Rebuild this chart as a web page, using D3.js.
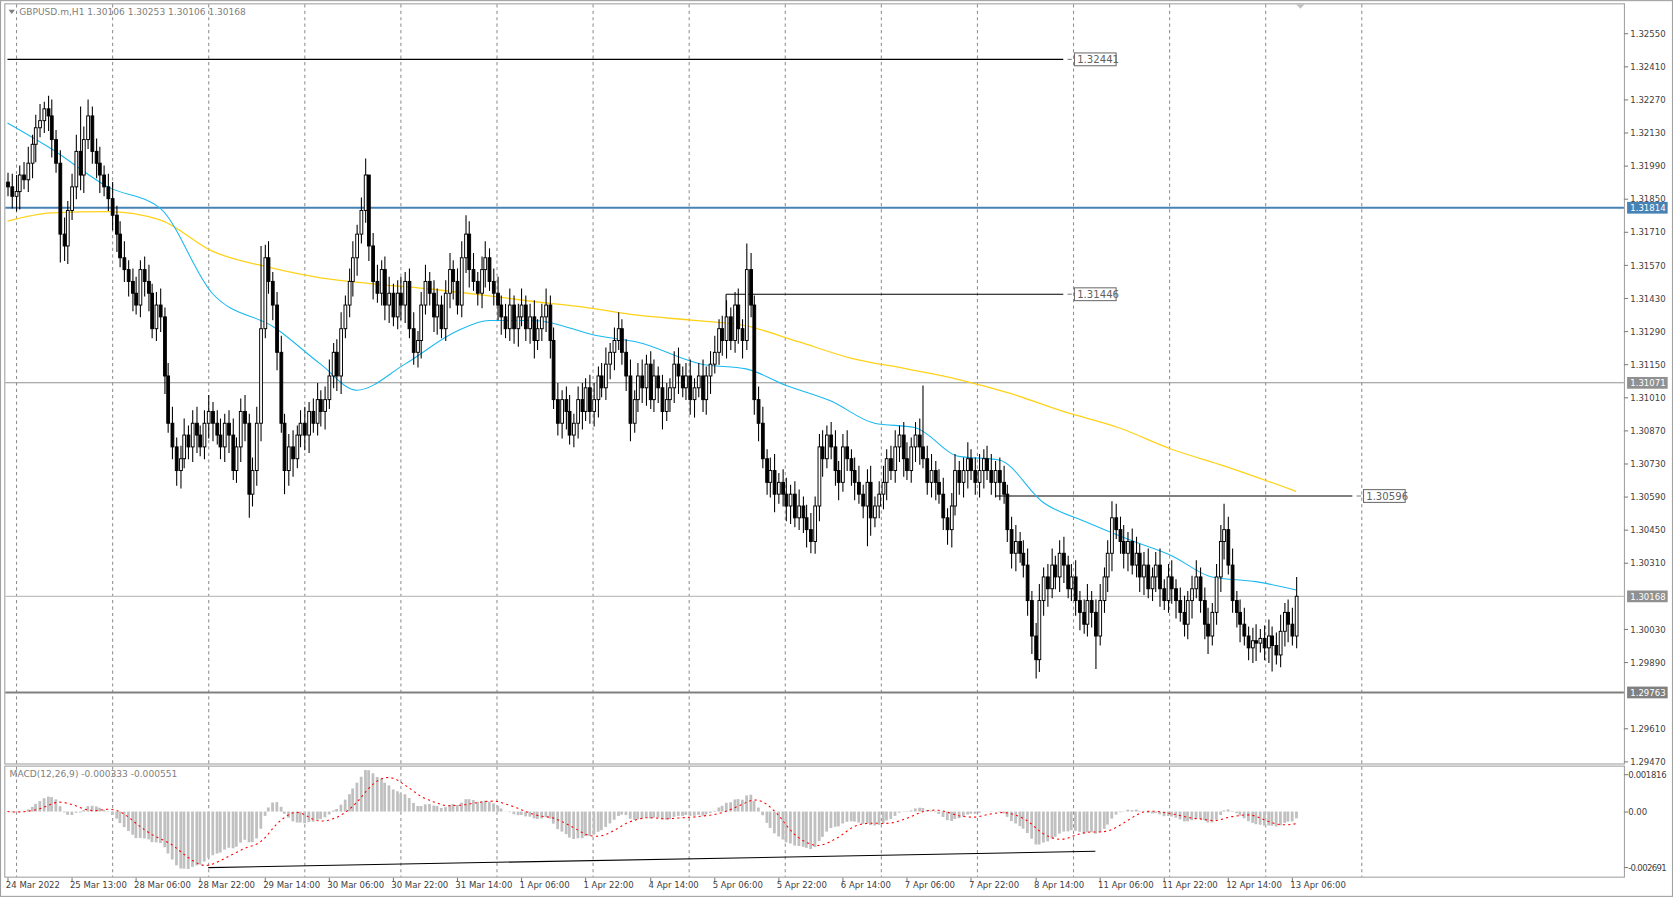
<!DOCTYPE html>
<html><head><meta charset="utf-8">
<script src="https://cdn.jsdelivr.net/npm/d3@7"></script>
<style>body{margin:0;background:#fff}svg{display:block}</style>
</head><body>
<svg id="c" width="1673" height="897" viewBox="0 0 1567 840"></svg>
<script>
// closes in 1e-5 above 1.29000, one per H1 bar
var closes = [2900,2860,2880,2950,2930,3000,3080,3150,3180,3230,3200,3100,3000,2700,2650,2800,2900,3050,2950,3100,3200,3050,3000,2950,2900,2850,
  2780,2700,2600,2550,2500,2450,2400,2550,2500,2450,2300,2400,2350,2100,1900,
  1800,1700,1750,1850,1800,1900,1850,1800,1900,1950,1900,1850,1800,1900,1850,1700,1800,1950,1900,1600,
  1700,1900,2300,2600,2500,2400,2200,1900,1700,1800,
  1750,1850,1900,1850,1950,1900,2000,1950,2000,2100,2200,2100,2300,2400,2500,
  2600,2700,2800,2950,2650,2500,2450,2550,2400,2450,
  2350,2450,2400,2500,2300,2200,2250,2400,2500,2450,2350,2400,2300,2450,2550,2500,2400,2600,2700,2550,
  2500,2450,2550,2600,2500,2450,2400,2350,2300,2400,2300,2350,2400,2300,2350,2250,2300,2350,2400,2250,
  2000,1900,2000,1950,1850,1900,2000,1950,2050,1950,2000,2100,2050,2150,2200,2250,2300,2200,2100,1900,2000,2100,2050,2150,2000,
  2100,2050,1950,2000,2050,2150,2100,2050,2100,2000,2050,2100,2000,2100,2150,
  2200,2300,2250,2350,2250,2400,2300,2250,2550,2400,
  2000,1900,1750,1650,1700,1600,1650,1600,1550,1600,1500,1550,1500,1450,1400,
  1550,1800,1750,1850,1800,1700,1650,1800,1750,1700,1650,1600,1550,1650,1500,
  1550,1600,1650,1750,1700,1800,1850,1750,1700,1800,1850,1800,1750,1650,1700,1650,1600,1500,1450,1550,
  1700,1650,1700,1750,1700,1650,1700,1750,1700,1650,1700,1650,1600,1450,1350,
  1400,1350,1300,1150,1000,900,1150,1250,1200,1300,1250,1350,1300,1200,1250,
  1150,1100,1050,1150,1100,1000,1150,1250,1350,1500,1450,1400,1350,1400,1300,
  1350,1250,1300,1200,1250,1300,1200,1150,1250,1200,1150,1100,1050,1150,1200,
  1250,1150,1050,1000,1100,1250,1400,1450,1300,1150,1100,1050,1000,950,980,
  970,990,950,1000,960,920,1020,1100,1050,1000,1168];
var firstOpen = 2920;
// notable wicks: [bar, high, low]
var spikes = [[9,3260,null],[18,3240,null],[13,null,2580],[60,null,1500],[63,2650,null],[69,null,1600],
  [90,2820,null],[114,2780,null],[184,2660,null],[200,null,1350],[214,null,1380],[228,2060,null],
  [256,null,820],[271,null,860],[276,1560,null],[303,1560,null],[315,null,850],[321,1250,null]];
var maFastBars = [0,11,25,38,51,67,78,87,99,112,120,131,147,157,173,184,194,205,216,226,237,247,258,269,279,290,300,311,321];
var maFastVals = [3170,3060,2900,2810,2450,2300,2150,2040,2150,2290,2335,2335,2270,2243,2150,2130,2060,1995,1900,1882,1760,1745,1565,1480,1410,1340,1250,1230,1195];
var maSlowBars = [0,11,25,38,51,65,78,91,104,117,131,144,157,171,184,197,210,224,237,250,263,277,290,303,321];
var maSlowVals = [2755,2790,2795,2760,2628,2560,2515,2490,2470,2445,2415,2390,2357,2335,2312,2245,2176,2130,2085,2025,1950,1880,1790,1720,1612];
var timeLabels = ["24 Mar 2022","25 Mar 13:00","28 Mar 06:00","28 Mar 22:00","29 Mar 14:00","30 Mar 06:00","30 Mar 22:00","31 Mar 14:00","1 Apr 06:00","1 Apr 22:00","4 Apr 14:00","5 Apr 06:00","5 Apr 22:00","6 Apr 14:00","7 Apr 06:00","7 Apr 22:00","8 Apr 14:00","11 Apr 06:00","11 Apr 22:00","12 Apr 14:00","13 Apr 06:00"];
var priceTicks = [1.32550,1.32410,1.32270,1.32130,1.31990,1.31850,1.31710,1.31570,1.31430,1.31290,1.31150,1.31010,1.30870,1.30730,1.30590,1.30450,1.30310,1.30030,1.29890,1.29610,1.29470];
var macdTicks = [0.001816,0,-0.002691];
// level lines: [price, fromBar|null, toBar|null, color, width, axisLabel]
var levels = [[1.32441,0,263,"#000",1,false],[1.31814,null,null,"#4682b4",2,true],[1.31446,179,263,"#000",1,false],
  [1.31071,null,null,"#909090",1,true],[1.30596,246,335,"#000",1,false],[1.30168,null,null,"#c0c0c0",1,true],[1.29763,null,null,"#808080",2,true]];
var trendBars = [50,271], trendVals = [-0.00272,-0.00193];

var P = function(v){ return 1.29 + v/100000; };
var N = closes.length;
var svg = d3.select("#c");
var x = d3.scaleLinear().domain([0, N-1]).range([7, 1214]);
var y = d3.scaleLinear().domain([1.2947, 1.3255]).range([713, 31]);
var ym = d3.scaleLinear().domain([-0.002691, 0.001816]).range([812, 725]);
var font = "Tahoma, 'DejaVu Sans', sans-serif";

// frame
svg.append("rect").attr("x",0.5).attr("y",0.5).attr("width",1566).attr("height",839).attr("fill","#fff").attr("stroke","#a0a0a0");
svg.append("rect").attr("x",4.5).attr("y",3.5).attr("width",1517).attr("height",712).attr("fill","none").attr("stroke","#a0a0a0");
svg.append("rect").attr("x",4.5).attr("y",717.5).attr("width",1517).attr("height",104).attr("fill","none").attr("stroke","#a0a0a0");

// vertical grid
var grid = d3.range(15, 1300, 90);
svg.append("g").selectAll("line").data(grid).join("line")
  .attr("x1",d=>d+0.5).attr("x2",d=>d+0.5).attr("y1",4).attr("y2",821)
  .attr("stroke","#909090").attr("stroke-dasharray","3,3");

// levels
var lv = svg.append("g");
levels.forEach(function(l){
  var x1 = l[1]==null ? 5 : x(l[1]), x2 = l[2]==null ? 1521 : x(l[2]);
  var yy = Math.round(y(l[0]))+0.5;
  lv.append("line").attr("x1",x1).attr("x2",x2).attr("y1",yy).attr("y2",yy).attr("stroke",l[3]).attr("stroke-width",l[4]);
  if(!l[5]){
    lv.append("line").attr("x1",x2+4).attr("x2",x2+8).attr("y1",yy).attr("y2",yy).attr("stroke","#808080");
    lv.append("text").attr("x",x2+13).attr("y",yy+3.5).attr("font-family",font).attr("font-size",9.5).attr("fill","#606060").text(l[0].toFixed(5));
    lv.append("rect").attr("x",x2+10.5).attr("y",yy-6).attr("width",39).attr("height",12).attr("fill","none").attr("stroke","#707070");
  }
});
lv.append("line").attr("x1",x(179)).attr("x2",x(179)).attr("y1",y(1.31446)).attr("y2",y(1.3130)).attr("stroke","#000");

// moving averages
var line = d3.line().curve(d3.curveMonotoneX);
svg.append("path").attr("d", line(maSlowBars.map((b,i)=>[x(b), y(P(maSlowVals[i]))]))).attr("fill","none").attr("stroke","#ffd21a").attr("stroke-width",1.2);
svg.append("path").attr("d", line(maFastBars.map((b,i)=>[x(b), y(P(maFastVals[i]))]))).attr("fill","none").attr("stroke","#1ab8f0").attr("stroke-width",1);

// candles
var bars = closes.map(function(c,i){
  var o = i==0 ? firstOpen : closes[i-1];
  var hi = Math.max(o,c) + 40 + (i%3)*15, lo = Math.min(o,c) - 40 - (i%4)*12;
  spikes.forEach(function(s){ if(s[0]==i){ if(s[1]!=null) hi=s[1]; if(s[2]!=null) lo=s[2]; } });
  return {i:i, o:P(o), c:P(c), h:P(hi), l:P(lo)};
});
var cg = svg.append("g");
cg.selectAll("line").data(bars).join("line")
  .attr("x1",d=>Math.round(x(d.i))+0.5).attr("x2",d=>Math.round(x(d.i))+0.5)
  .attr("y1",d=>y(d.h)).attr("y2",d=>y(d.l)).attr("stroke","#000");
cg.selectAll("rect").data(bars).join("rect")
  .attr("x",d=>Math.round(x(d.i))-0.8).attr("width",2.6)
  .attr("y",d=>y(Math.max(d.o,d.c))).attr("height",d=>Math.max(0.8, Math.abs(y(d.o)-y(d.c))))
  .attr("fill",d=>d.c>=d.o ? "#fff" : "#000").attr("stroke","#000").attr("stroke-width",0.9);

// MACD
function ema(arr, n){ var k=2/(n+1), out=[], e=arr[0]; arr.forEach(function(v){ e = v*k + e*(1-k); out.push(e); }); return out; }
var cp = closes.map(P);
var e12 = ema(cp,12), e26 = ema(cp,26);
var macd = e12.map((v,i)=>v-e26[i]);
var sig = macd.map((v,i)=>d3.mean(macd.slice(Math.max(0,i-8), i+1)));
svg.append("g").selectAll("rect").data(macd).join("rect")
  .attr("x",(d,i)=>Math.round(x(i))-1).attr("width",2.6)
  .attr("y",d=>Math.min(ym(d), ym(0))).attr("height",d=>Math.abs(ym(d)-ym(0)))
  .attr("fill","#c0c0c0");
svg.append("path").attr("d", d3.line()(sig.map((v,i)=>[x(i), ym(v)]))).attr("fill","none").attr("stroke","#ff0000").attr("stroke-dasharray","2,3");
svg.append("line").attr("x1",x(trendBars[0])).attr("x2",x(trendBars[1])).attr("y1",ym(trendVals[0])).attr("y2",ym(trendVals[1])).attr("stroke","#000");

// right axes
var ax = svg.append("g").attr("font-family",font).attr("font-size",8).attr("fill","#404040");
priceTicks.forEach(function(p){
  var yy = Math.round(y(p))+0.5;
  ax.append("line").attr("x1",1521).attr("x2",1525).attr("y1",yy).attr("y2",yy).attr("stroke","#808080");
  ax.append("text").attr("x",1527).attr("y",yy+3).text(p.toFixed(5));
});
macdTicks.forEach(function(p){
  var yy = Math.round(ym(p))+0.5;
  ax.append("line").attr("x1",1521).attr("x2",1525).attr("y1",yy).attr("y2",yy).attr("stroke","#808080");
  ax.append("text").attr("x",1525).attr("y",yy+3).attr("textLength",p==0?null:36).text(p==0 ? "0.00" : p.toFixed(6));
});
levels.filter(l=>l[5]).forEach(function(l){
  var yy = Math.round(y(l[0]));
  ax.append("rect").attr("x",1524).attr("y",yy-5).attr("width",38).attr("height",11).attr("fill",l[0]==1.30168?"#909090":l[3]);
  ax.append("text").attr("x",1527).attr("y",yy+3.5).attr("fill","#fff").text(l[0].toFixed(5));
});

// time axis
timeLabels.forEach(function(t,k){
  var xx = Math.round(x(k*16))+0.5;
  ax.append("line").attr("x1",xx).attr("x2",xx).attr("y1",822).attr("y2",826).attr("stroke","#808080");
  ax.append("text").attr("x",xx-2).attr("y",832).text(t);
});

// titles
svg.append("path").attr("d","M8,9 L14,9 L11,13 Z").attr("fill","#808080");
svg.append("text").attr("x",18).attr("y",14).attr("font-family",font).attr("font-size",8.5).attr("fill","#808080").text("GBPUSD.m,H1  1.30106 1.30253 1.30106 1.30168");
svg.append("text").attr("x",9).attr("y",728).attr("font-family",font).attr("font-size",8.5).attr("fill","#808080").text("MACD(12,26,9) -0.000333 -0.000551");
svg.append("path").attr("d","M1214,4 L1222,4 L1218,8 Z").attr("fill","#c0c0c0");
</script>
</body></html>
